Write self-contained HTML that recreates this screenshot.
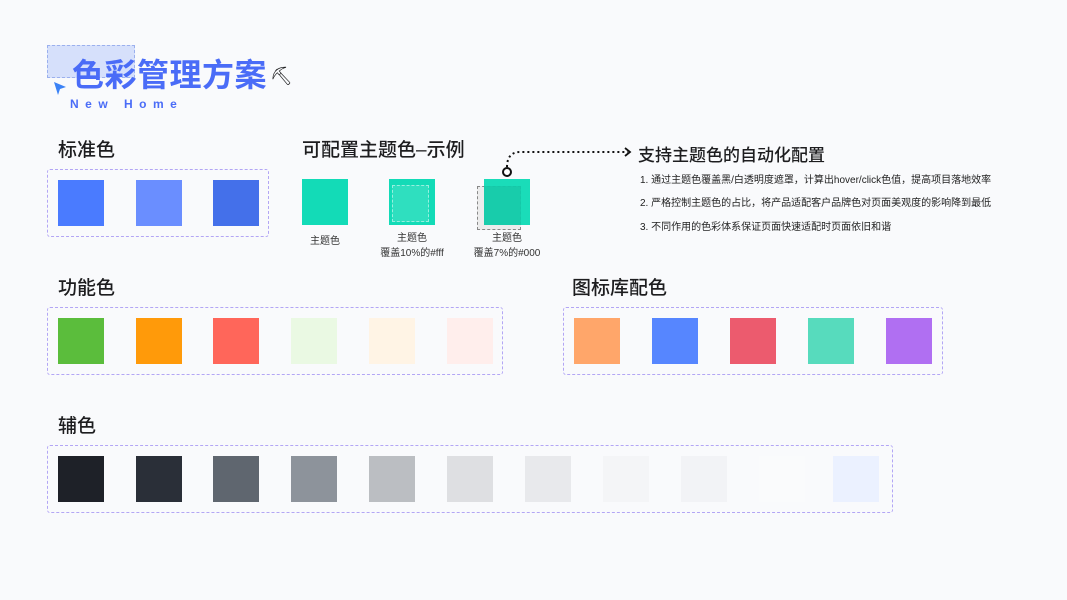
<!DOCTYPE html>
<html><head><meta charset="utf-8"><style>
*{margin:0;padding:0;box-sizing:border-box}
body{width:1067px;height:600px;background:#f9fafc;position:relative;overflow:hidden;font-family:"Liberation Sans","Noto Sans CJK SC",sans-serif;color:#1d1d1f}
.a{position:absolute}
.sq{position:absolute;width:46px;height:46px}
.box{position:absolute;border:1px dashed #b3a6f5;border-radius:3px}
.h{position:absolute;font-size:19px;font-weight:500;line-height:1}
.cap{position:absolute;font-size:10px;line-height:15px;text-align:center;width:100px;color:#333}
.li{position:absolute;left:640px;font-size:10px;color:#222;white-space:nowrap}
</style></head><body>
<div class="a" style="left:47px;top:45px;width:88px;height:33px;background:#d6e0fb;border:1px dashed #9bb0ee"></div>
<div class="a" style="left:72px;top:59px;font-size:32px;font-weight:700;color:#4a6cf7;line-height:1;letter-spacing:0.5px">色彩管理方案</div>
<div class="a" style="left:270px;top:66px;font-size:18px">⛏</div>
<svg class="a" style="left:52px;top:80px" width="16" height="16"><path d="M2 2 L14 7 L8 9 L6 15 Z" fill="#3b82f6"/></svg>
<div class="a" style="left:70px;top:97px;font-size:12px;font-weight:700;color:#4a6cf7;letter-spacing:6.5px">New Home</div>

<div class="h" style="left:58px;top:141px">标准色</div>
<div class="box" style="left:47px;top:169px;width:222px;height:68px"></div>
<div class="sq" style="left:58px;top:180px;background:#4a7bff"></div>
<div class="sq" style="left:136px;top:180px;background:#6a8eff"></div>
<div class="sq" style="left:213px;top:180px;background:#4470ea"></div>

<div class="h" style="left:302px;top:141px">可配置主题色–示例</div>
<div class="sq" style="left:302px;top:179px;background:#13dbb7"></div>
<div class="sq" style="left:389px;top:179px;background:#13dbb7"></div>
<div class="a" style="left:392px;top:185px;width:37px;height:37px;background:rgba(255,255,255,.12);border:1px dashed rgba(255,255,255,.5)"></div>
<div class="a" style="left:477px;top:186px;width:44px;height:44px;background:#ececec;border:1px dashed #888"></div>
<div class="sq" style="left:484px;top:179px;background:rgba(19,219,183,.97)"></div>
<div class="a" style="left:484px;top:186px;width:37px;height:39px;background:rgba(0,0,0,.07)"></div>
<div class="cap" style="left:275px;top:234px">主题色</div>
<div class="cap" style="left:362px;top:231px">主题色<br>覆盖10%的#fff</div>
<div class="cap" style="left:457px;top:231px">主题色<br>覆盖7%的#000</div>
<svg class="a" style="left:500px;top:143px" width="140" height="36">
<path d="M7 24 C7 16 10 9 20 9 L128 9" fill="none" stroke="#111" stroke-width="2" stroke-dasharray="2 3"/>
<path d="M125 5 L130 9 L125 13" fill="none" stroke="#111" stroke-width="1.8"/>
<circle cx="7" cy="29" r="4" fill="#fff" stroke="#111" stroke-width="2"/>
</svg>
<div class="a" style="left:638px;top:141px;font-size:17px;font-weight:500">支持主题色的自动化配置</div>
<div class="li" style="top:171px">1. 通过主题色覆盖黑/白透明度遮罩，计算出hover/click色值，提高项目落地效率</div>
<div class="li" style="top:194px">2. 严格控制主题色的占比，将产品适配客户品牌色对页面美观度的影响降到最低</div>
<div class="li" style="top:218px">3. 不同作用的色彩体系保证页面快速适配时页面依旧和谐</div>

<div class="h" style="left:58px;top:279px">功能色</div>
<div class="box" style="left:47px;top:307px;width:456px;height:68px"></div>
<div class="sq" style="left:58px;top:318px;background:#5bbd3c"></div>
<div class="sq" style="left:136px;top:318px;background:#ff9a0a"></div>
<div class="sq" style="left:213px;top:318px;background:#ff665a"></div>
<div class="sq" style="left:291px;top:318px;background:#eaf9e3"></div>
<div class="sq" style="left:369px;top:318px;background:#fff4e5"></div>
<div class="sq" style="left:447px;top:318px;background:#ffeeec"></div>

<div class="h" style="left:572px;top:279px">图标库配色</div>
<div class="box" style="left:563px;top:307px;width:380px;height:68px"></div>
<div class="sq" style="left:574px;top:318px;background:#ffa66a"></div>
<div class="sq" style="left:652px;top:318px;background:#5686ff"></div>
<div class="sq" style="left:730px;top:318px;background:#ec5b6e"></div>
<div class="sq" style="left:808px;top:318px;background:#57dbbd"></div>
<div class="sq" style="left:886px;top:318px;background:#b06ff2"></div>

<div class="h" style="left:58px;top:417px">辅色</div>
<div class="box" style="left:47px;top:445px;width:846px;height:68px"></div>
<div class="sq" style="left:58px;top:456px;background:#1e2128"></div>
<div class="sq" style="left:136px;top:456px;background:#2a2f38"></div>
<div class="sq" style="left:213px;top:456px;background:#5f666f"></div>
<div class="sq" style="left:291px;top:456px;background:#8d939b"></div>
<div class="sq" style="left:369px;top:456px;background:#bbbec2"></div>
<div class="sq" style="left:447px;top:456px;background:#dedfe2"></div>
<div class="sq" style="left:525px;top:456px;background:#e8e9ec"></div>
<div class="sq" style="left:603px;top:456px;background:#f4f5f7"></div>
<div class="sq" style="left:681px;top:456px;background:#f2f3f6"></div>
<div class="sq" style="left:759px;top:456px;background:#fafbfc"></div>
<div class="sq" style="left:833px;top:456px;background:#ebf1ff"></div>
</body></html>
